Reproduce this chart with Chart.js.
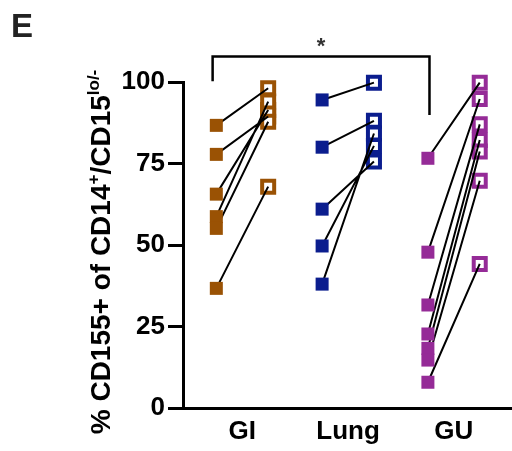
<!DOCTYPE html>
<html>
<head>
<meta charset="utf-8">
<script src="https://cdn.jsdelivr.net/npm/chart.js@4/dist/chart.umd.min.js"></script>
<style>
  html, body { margin: 0; padding: 0; background: #fff; overflow: hidden; }
  #wrap { width: 512px; height: 451px; position: relative; }
  #chart { display: block; }
</style>
</head>
<body>
<div id="wrap"><canvas id="chart"></canvas></div>
<script>
// ─── Dados ───────────────────────────────────────────
const groups = ['GI', 'Lung', 'GU'];
const colors = ['#9A5204', '#0B1D8E', '#952B97'];

const giBefore   = [86.7, 77.8, 65.6, 58.7, 55.1, 36.7];
const giAfter    = [98.1, 89.4, 91.4, 94.0, 87.8, 67.9];
const lungBefore = [94.5, 80.0, 61.0, 49.7, 38.0];
const lungAfter  = [99.8, 88.1, 75.6, 80.4, 84.2];
const guBefore   = [76.6, 47.8, 31.6, 22.7, 18.3, 14.7, 7.9];
const guAfter    = [99.8, 94.8, 87.0, 82.2, 78.7, 69.7, 44.2];

const yTicks = [0, 25, 50, 75, 100];

// colchete de significância (x em unidades de grupo, y em %)
const bracketX = [0.72, 0.72, 2.77, 2.77];
const bracketY = [100.2, 107.8, 107.8, 89.9];
const bracketLabel = '*';

const before = [giBefore, lungBefore, guBefore];
const after  = [giAfter, lungAfter, guAfter];
const OFF = 0.245;

const datasets = [];

groups.forEach((g, gi) => {
  const cx = gi + 1;
  const pairs = [];
  before[gi].forEach((v, i) => {
    pairs.push({ x: cx - OFF, y: v });
    pairs.push({ x: cx + OFF, y: after[gi][i] });
    pairs.push({ x: cx, y: null });
  });

  // quadrados abertos (desenhados primeiro)
  datasets.push({
    label: g + ' after',
    data: after[gi].map(v => ({ x: cx + OFF, y: v })),
    pointStyle: 'rect',
    pointRadius: 8.5,
    pointBorderWidth: 4,
    pointBackgroundColor: '#fff',
    pointBorderColor: colors[gi],
    showLine: false,
    clip: false,
    order: 3,
  });

  // linhas pareadas
  datasets.push({
    label: g + ' lines',
    data: pairs,
    showLine: true,
    spanGaps: false,
    borderColor: '#000',
    borderWidth: 2,
    pointRadius: 0,
    clip: false,
    order: 2,
  });

  // quadrados cheios
  datasets.push({
    label: g + ' before',
    data: before[gi].map(v => ({ x: cx - OFF, y: v })),
    pointStyle: 'rect',
    pointRadius: 9.2,
    pointBorderWidth: 0,
    pointBackgroundColor: colors[gi],
    showLine: false,
    clip: false,
    order: 1,
  });
});

datasets.push({
  label: 'bracket',
  data: bracketX.map((x, i) => ({ x, y: bracketY[i] })),
  showLine: true,
  borderColor: '#000',
  borderWidth: 2.5,
  pointRadius: 0,
  clip: false,
  order: 0,
});

// título do eixo Y com sobrescritos + letra do painel + asterisco
const extrasPlugin = {
  id: 'extras',
  afterDraw(chart) {
    const ctx = chart.ctx;
    const { x, y } = chart.scales;

    // letra do painel
    ctx.save();
    ctx.fillStyle = '#222';
    ctx.font = 'bold 33px "Liberation Sans", Arial, sans-serif';
    ctx.textBaseline = 'alphabetic';
    ctx.fillText('E', 11, 37);

    // asterisco
    const midX = (x.getPixelForValue(bracketX[1]) + x.getPixelForValue(bracketX[2])) / 2;
    ctx.font = 'bold 22px "Liberation Sans", Arial, sans-serif';
    ctx.textAlign = 'center';
    ctx.fillStyle = '#333';
    ctx.fillText(bracketLabel, midX, y.getPixelForValue(bracketY[1]) - 4);
    ctx.restore();

    // título do eixo Y
    const parts = [
      { t: '% CD155+ of CD14', sup: false },
      { t: '+', sup: true },
      { t: '/CD15', sup: false },
      { t: 'lo/-', sup: true },
    ];
    const mainFont = 'bold 28px "Liberation Sans", Arial, sans-serif';
    const supFont = 'bold 17px "Liberation Sans", Arial, sans-serif';
    ctx.save();
    ctx.fillStyle = '#000';
    let total = 0;
    parts.forEach(p => {
      ctx.font = p.sup ? supFont : mainFont;
      p.w = ctx.measureText(p.t).width;
      total += p.w;
    });
    ctx.translate(110, 252);
    ctx.rotate(-Math.PI / 2);
    ctx.textBaseline = 'alphabetic';
    ctx.textAlign = 'left';
    let cur = -total / 2;
    parts.forEach(p => {
      ctx.font = p.sup ? supFont : mainFont;
      ctx.fillText(p.t, cur, p.sup ? -11 : 0);
      cur += p.w;
    });
    ctx.restore();
  },
};

new Chart(document.getElementById('chart'), {
  type: 'scatter',
  data: { datasets },
  plugins: [extrasPlugin],
  options: {
    responsive: true,
    maintainAspectRatio: false,
    animation: false,
    layout: { autoPadding: false, padding: { top: 82, left: 0, right: 0, bottom: 0 } },
    plugins: {
      legend: { display: false },
      tooltip: { enabled: false },
    },
    scales: {
      x: {
        type: 'linear',
        min: 0.44,
        max: 3.55,
        afterBuildTicks: (s) => { s.ticks = groups.map((g, i) => ({ value: i + 1 })); },
        afterFit: (s) => { s.height = 43; s.paddingLeft = 0; s.paddingRight = 0; },
        ticks: {
          color: '#000',
          font: { family: '"Liberation Sans", Arial, sans-serif', size: 26, weight: 'bold' },
          padding: 8,
          callback: (v) => groups[v - 1] || '',
        },
        grid: { drawOnChartArea: false, drawTicks: false },
        border: { color: '#000', width: 3 },
      },
      y: {
        min: 0,
        max: 100,
        afterBuildTicks: (s) => { s.ticks = yTicks.map(v => ({ value: v })); },
        afterFit: (s) => { s.width = 183; s.paddingTop = 0; s.paddingBottom = 0; },
        ticks: {
          color: '#000',
          font: { family: '"Liberation Sans", Arial, sans-serif', size: 26, weight: 'bold' },
          padding: 3,
        },
        grid: { drawOnChartArea: false, drawTicks: true, tickLength: 15, tickWidth: 3, tickColor: '#000' },
        border: { color: '#000', width: 3 },
      },
    },
  },
});
</script>
</body>
</html>
